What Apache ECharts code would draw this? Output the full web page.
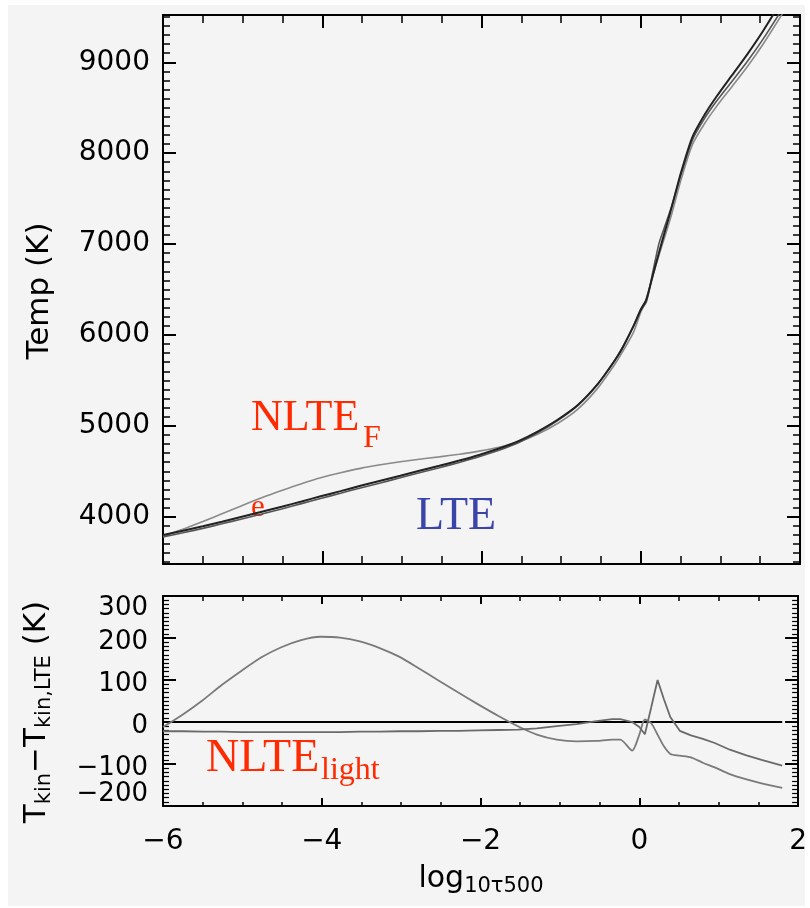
<!DOCTYPE html>
<html>
<head>
<meta charset="utf-8">
<title>Temperature stratification, LTE and NLTE</title>
<script src="https://cdn.jsdelivr.net/npm/echarts@6/dist/echarts.min.js"></script>
<style>
  html, body { margin: 0; padding: 0; background: #fff; }
  #main { width: 810px; height: 908px; }
</style>
</head>
<body>
<div id="main"></div>
<script>
// optical depth grid, log10 tau_500
const tau = [-6, -5.75, -5.5, -5.26, -5.01, -4.76, -4.51, -4.26, -4.02, -3.77,
    -3.52, -3.27, -3.02, -2.78, -2.53, -2.28, -2.03, -1.78, -1.53, -1.29,
    -1.04, -0.79, -0.54, -0.34, -0.24, -0.09, 0.0, 0.07, 0.15, 0.23,
    0.31, 0.39, 0.51, 0.65, 0.8, 0.95, 1.14, 1.34, 1.54, 1.8];

// top panel: temperature (K)
const tempLTE = [3800, 3845, 3895, 3945, 4000, 4055, 4110, 4168, 4225, 4282,
    4340, 4395, 4450, 4505, 4560, 4618, 4680, 4750, 4835, 4940,
    5070, 5230, 5460, 5700, 5840, 6100, 6280, 6390, 6650, 6910,
    7160, 7410, 7800, 8180, 8420, 8620, 8850, 9090, 9350, 9720];
const tempNLTEFe = [3788, 3863, 3947, 4033, 4122, 4209, 4288, 4363, 4428, 4483,
    4532, 4571, 4605, 4633, 4659, 4688, 4722, 4765, 4825, 4910,
    5028, 5184, 5415, 5658, 5798, 6032, 6250, 6396, 6647, 6880,
    7102, 7334, 7720, 8096, 8323, 8512, 8726, 8954, 9204, 9563];
const tempNLTELight = [3778, 3823, 3872, 3922, 3976, 4031, 4086, 4144, 4201, 4258,
    4317, 4372, 4428, 4483, 4539, 4597, 4660, 4731, 4817, 4925,
    5060, 5225, 5462, 5707, 5847, 6100, 6268, 6361, 6685, 7010,
    7214, 7422, 7779, 8148, 8380, 8570, 8784, 9011, 9260, 9616];

// bottom panel: T_kin - T_kin,LTE (K)
const diffLTE = [0, 0, 0, 0, 0, 0, 0, 0, 0, 0,
    0, 0, 0, 0, 0, 0, 0, 0, 0, 0,
    0, 0, 0, 0, 0, 0, 0, 0, 0, 0,
    0, 0, 0, 0, 0, 0, 0, 0, 0, 0];
const diffFe = [-12, 18, 52, 88, 122, 154, 178, 195, 203, 201,
    192, 176, 155, 128, 99, 70, 42, 15, -10, -30,
    -42, -46, -45, -42, -42, -68, -30, 6, -3, -30,
    -58, -76, -80, -84, -97, -108, -124, -136, -146, -157];
const diffLight = [-22, -22, -23, -23, -24, -24, -24, -24, -24, -24,
    -23, -23, -22, -22, -21, -21, -20, -19, -18, -15,
    -10, -5, 2, 7, 7, 0, -12, -29, 35, 100,
    54, 12, -21, -32, -40, -50, -66, -79, -90, -104];

const FONT = 'DejaVu Sans';
const SERIF = 'Liberation Serif';
const RED = '#ff2a00';

function pairs(ys) {
    return tau.map((t, i) => [t, ys[i]]);
}

function minus(v) {
    return String(v).replace('-', '\u2212');
}

function xAxisFor(grid, pos, showLabel, major, minor) {
    return {
        type: 'value', gridIndex: grid, position: pos,
        min: -6, max: 2, interval: 2,
        axisLine: { show: true, onZero: false, lineStyle: { color: '#000', width: 2 } },
        axisTick: { show: true, inside: true, length: major, lineStyle: { color: '#000', width: 2 } },
        minorTick: { show: true, splitNumber: 4, length: minor, lineStyle: { color: '#000', width: 1.5 } },
        splitLine: { show: false },
        axisLabel: {
            show: showLabel, margin: 22, color: '#000', fontSize: 28, fontFamily: FONT,
            showMinLabel: true, showMaxLabel: true,
            formatter: minus
        }
    };
}

function yTopFor(pos, showLabel) {
    return {
        type: 'value', gridIndex: 0, position: pos,
        min: 3480, max: 9520, minInterval: 1000, maxInterval: 1000, splitNumber: 6,
        axisLine: { show: true, onZero: false, lineStyle: { color: '#000', width: 2 } },
        axisTick: { show: true, inside: true, length: 13, lineStyle: { color: '#000', width: 2 } },
        minorTick: { show: true, splitNumber: 10, length: 7, lineStyle: { color: '#000', width: 1.5 } },
        splitLine: { show: false },
        axisLabel: {
            show: showLabel, margin: 13, color: '#000', fontSize: 28, fontFamily: FONT,
            showMinLabel: false, showMaxLabel: false,
            formatter: function (v) { return String(v); }
        }
    };
}

function yBottomFor(pos, showLabel) {
    // small line boxes so that the shifted end labels do not hide their neighbours
    const tok = { fontSize: 26, fontFamily: FONT, color: '#000', lineHeight: 20 };
    return {
        type: 'value', gridIndex: 1, position: pos,
        min: -200, max: 300, interval: 100,
        axisLine: { show: true, onZero: false, lineStyle: { color: '#000', width: 2 } },
        axisTick: { show: true, inside: true, length: 13, lineStyle: { color: '#000', width: 2 } },
        minorTick: { show: true, splitNumber: 10, length: 6, lineStyle: { color: '#000', width: 1.2 } },
        splitLine: { show: false },
        axisLabel: {
            show: showLabel, margin: 15, color: '#000', fontSize: 26, fontFamily: FONT,
            showMinLabel: true, showMaxLabel: true, hideOverlap: false,
            formatter: function (v) {
                if (v === 300) return '{hi|300}';
                if (v === -200) return '{lo|' + minus(v) + '}';
                return '{n|' + minus(v) + '}';
            },
            rich: {
                hi: Object.assign({ padding: [24, 0, 0, 0] }, tok),
                lo: Object.assign({ padding: [0, 0, 24, 0] }, tok),
                n: Object.assign({ padding: [8, 0, 0, 0] }, tok)
            }
        }
    };
}

function line(name, xi, yi, ys, color, width, smooth) {
    return {
        name: name, type: 'line', xAxisIndex: xi, yAxisIndex: yi,
        data: pairs(ys), showSymbol: false, clip: true,
        smooth: smooth,
        lineStyle: { color: color, width: width }
    };
}

function label(text, x, y, size, color) {
    return {
        type: 'text', x: x, y: y, silent: true,
        style: {
            text: text, fill: color, font: size + 'px "' + SERIF + '"',
            align: 'left', verticalAlign: 'middle'
        }
    };
}

let chart = echarts.init(document.getElementById('main'), null, { renderer: 'canvas' });

let option = {
    animation: false,
    backgroundColor: '#fff',
    grid: [
        { left: 163, right: 10, top: 15, height: 549 },
        { left: 163, right: 10, top: 596, height: 210 }
    ],
    xAxis: [
        xAxisFor(0, 'bottom', false, 13, 8),
        xAxisFor(0, 'top', false, 13, 8),
        xAxisFor(1, 'bottom', true, 8, 4),
        xAxisFor(1, 'top', false, 8, 5)
    ],
    yAxis: [
        yTopFor('left', true),
        yTopFor('right', false),
        yBottomFor('left', true),
        yBottomFor('right', false)
    ],
    series: [
        line('NLTE Fe', 0, 0, tempNLTEFe, '#8a8a8a', 1.6, 0.25),
        line('NLTE light', 0, 0, tempNLTELight, '#555', 1.6, 0.25),
        line('LTE', 0, 0, tempLTE, '#222', 2, 0.25),
        line('LTE diff', 2, 2, diffLTE, '#000', 2, false),
        line('NLTE Fe diff', 2, 2, diffFe, '#7a7a7a', 1.8, 0.25),
        line('NLTE light diff', 2, 2, diffLight, '#6a6a6a', 1.8, false)
    ],
    graphic: [
        {
            type: 'rect', z: -10, silent: true,
            shape: { x: 8, y: 5, width: 797, height: 901 },
            style: { fill: '#f4f4f4' }
        },
        {
            type: 'text', x: 40, y: 291, rotation: Math.PI / 2, silent: true,
            style: {
                text: 'Temp (K)', fill: '#000', font: '31px "' + FONT + '"',
                align: 'center', verticalAlign: 'middle'
            }
        },
        {
            type: 'text', x: 38, y: 712, rotation: Math.PI / 2, silent: true,
            style: {
                text: '{m|T}{s|kin}{m|\u2212T}{s|kin,LTE}{m| (K)}',
                align: 'center', verticalAlign: 'middle',
                rich: {
                    m: { fontSize: 31, fontFamily: FONT, fill: '#000', lineHeight: 34, verticalAlign: 'bottom', padding: [0, 0, 3, 0] },
                    s: { fontSize: 21, fontFamily: FONT, fill: '#000', lineHeight: 24, verticalAlign: 'bottom' }
                }
            }
        },
        {
            type: 'text', x: 481, y: 880, silent: true,
            style: {
                text: '{m|log}{s|10\u03c4500}',
                align: 'center', verticalAlign: 'middle',
                rich: {
                    m: { fontSize: 30, fontFamily: FONT, fill: '#000', lineHeight: 34, verticalAlign: 'bottom', padding: [0, 0, 3, 0] },
                    s: { fontSize: 21, fontFamily: FONT, fill: '#000', lineHeight: 24, verticalAlign: 'bottom' }
                }
            }
        },
        label('NLTE', 251, 418, 44, RED),
        label('F', 363, 439, 32, RED),
        label('e', 251, 508, 31, RED),
        label('LTE', 416, 517, 46, '#3b44a8'),
        label('NLTE', 206, 759, 46, RED),
        label('light', 321, 771, 32, RED)
    ]
};

chart.setOption(option);
window.addEventListener('resize', function () {
    chart.resize();
});
</script>
</body>
</html>
